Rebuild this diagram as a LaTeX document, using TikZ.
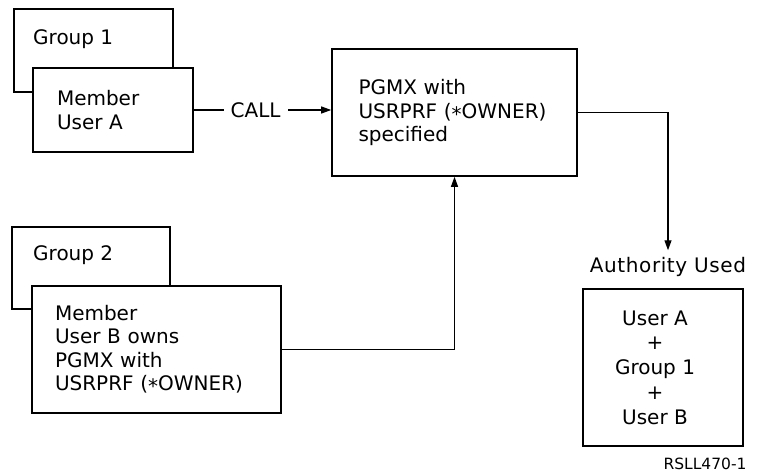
\documentclass[tikz,border=0pt]{standalone}
\usepackage{fontspec}
\setmainfont{DejaVu Sans}
\usetikzlibrary{arrows.meta}
\begin{document}
\begin{tikzpicture}[x=1pt,y=-1pt,
  box/.style={draw,line width=1.6pt,fill=white,inner ysep=0pt},
  txt/.style={font=\fontsize{20}{23.5}\selectfont},
  conn/.style={line width=1.2pt},
  arr/.style={conn,-{Triangle[length=10pt,width=7pt]}}]
\useasboundingbox (0,0) rectangle (757,473);
% group 1 and member A
\node[box,minimum width=159pt,minimum height=83pt] (g1) at (93.5,50.5) {};
\node[txt,anchor=base west,inner sep=0pt] (g1t) at (33,45) {Group 1};
\node[box,txt,text width=112pt,inner xsep=24pt,align=left,minimum height=84pt] (ma) at (113,110) {Member\\User A};
% program
\node[box,txt,text width=192pt,inner xsep=26.5pt,align=left,minimum height=127pt] (pg) at (454.5,112.5) {PGMX with\\USRPRF~(\raisebox{-0.3ex}{*}OWNER)\\specified};
% group 2 and member B
\node[box,minimum width=158pt,minimum height=82pt] (g2) at (91,268) {};
\node[txt,anchor=base west,inner sep=0pt] (g2t) at (33,260) {Group 2};
\node[box,txt,text width=203pt,inner xsep=23pt,align=left,minimum height=127pt] (mb) at (156.5,349.5) {Member\\User B owns\\PGMX with\\USRPRF~(\raisebox{-0.3ex}{*}OWNER)};
% authority
\node[txt,anchor=base] (authlabel) at (668,272) {\addfontfeature{LetterSpace=3}Authority Used};
\node[box,minimum width=160pt,minimum height=157pt] (au) at (663,367.5) {};
\node[font=\fontsize{20}{24.75}\selectfont,align=center,inner sep=0pt] (aut) at (655,367.5) {User A\\+\\Group 1\\+\\User B};
\node[font=\fontsize{15.5}{18}\selectfont,anchor=base] (ref) at (705,469) {RSLL470-1};
% connectors
\draw[arr] (ma.east) -- node[txt,fill=white,inner xsep=7pt,pos=0.45] (call) {CALL} (ma.east -| pg.west);
\draw[arr] (mb.east) -| (pg.south);
\draw[arr,shorten >=3pt] (pg.east) -| (authlabel.north);
\end{tikzpicture}
\end{document}
